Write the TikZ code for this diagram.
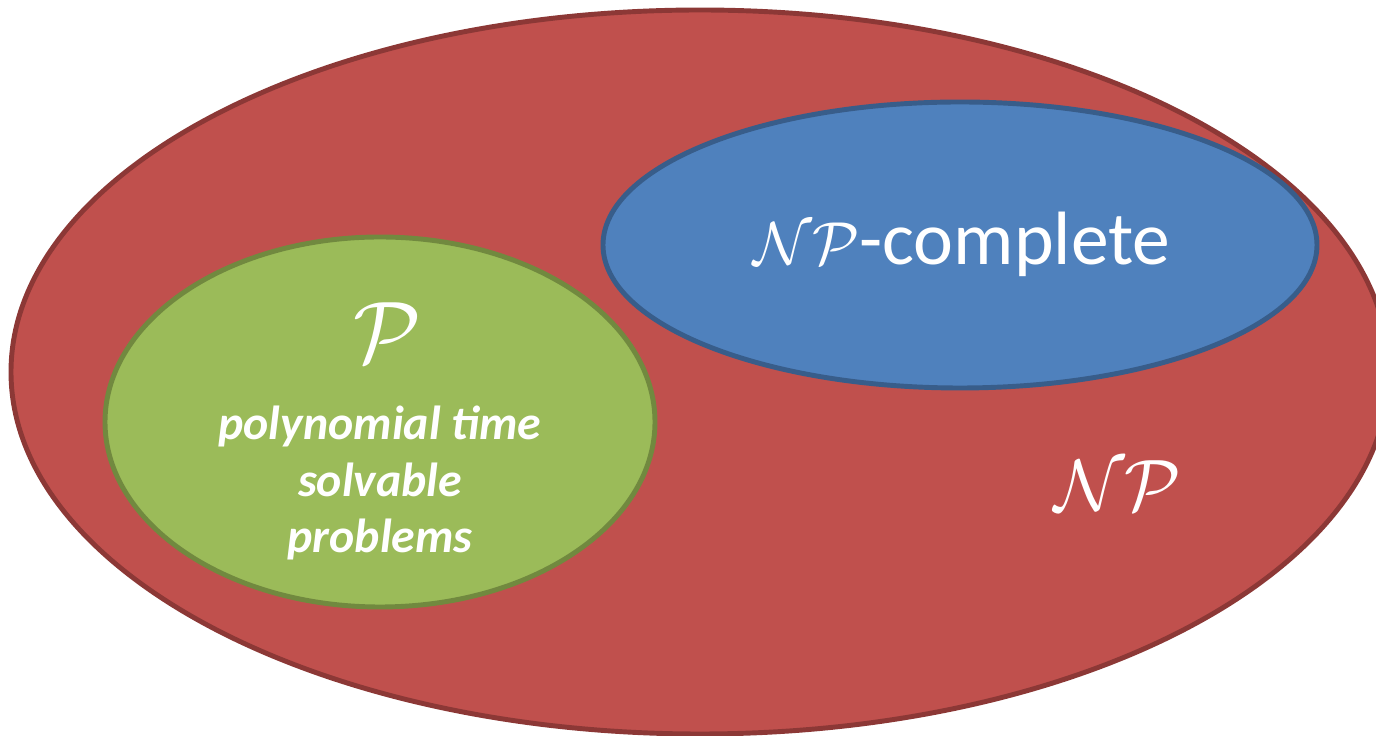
\documentclass[tikz,border=0pt]{standalone}
\usepackage{fontspec}
\setmainfont{Carlito}
\usetikzlibrary{positioning,shapes.geometric}

\definecolor{npfill}{HTML}{C0504D}
\definecolor{npline}{HTML}{8C3836}
\definecolor{pfill}{HTML}{9BBB59}
\definecolor{pline}{HTML}{71893F}
\definecolor{npcfill}{HTML}{4F81BD}
\definecolor{npcline}{HTML}{385D8A}

\tikzset{
  set/.style={ellipse,inner sep=0pt,line width=1.4pt},
  label text/.style={text=white,inner sep=0pt}
}

\begin{document}
\begin{tikzpicture}

  \clip (0,0) rectangle (13.76,7.36);

  % NP
  \node [set,draw=npline,fill=npfill,minimum width=13.78cm,minimum height=7.24cm] (np) at (7.00,3.64) {};

  % P
  \node [set,draw=pline,fill=pfill,minimum width=5.50cm,minimum height=3.70cm] (p) at (3.80,3.14) {};

  % NP-complete
  \node [set,draw=npcline,fill=npcfill,minimum width=7.14cm,minimum height=2.86cm] (npc) at (9.60,4.91) {};

  % labels
  \node [label text,font=\fontsize{21}{24}\selectfont] (nplabel) at (11.18,2.50) {$\mathcal{NP}$};
  \node [label text,font=\fontsize{24}{28}\selectfont] (plabel) at (3.88,4.03) {$\mathcal{P}$};
  \node [label text,font=\bfseries\itshape\fontsize{13.6}{16}\selectfont,align=center] (ptext) at (3.80,2.53)
    {polynomial time\\solvable\\problems};
  \node [label text,font=\fontsize{21.5}{24}\selectfont] (npclabel) at (9.62,4.92)
    {{\fontsize{17}{20}\selectfont$\mathcal{NP}$}-complete};

\end{tikzpicture}
\end{document}
